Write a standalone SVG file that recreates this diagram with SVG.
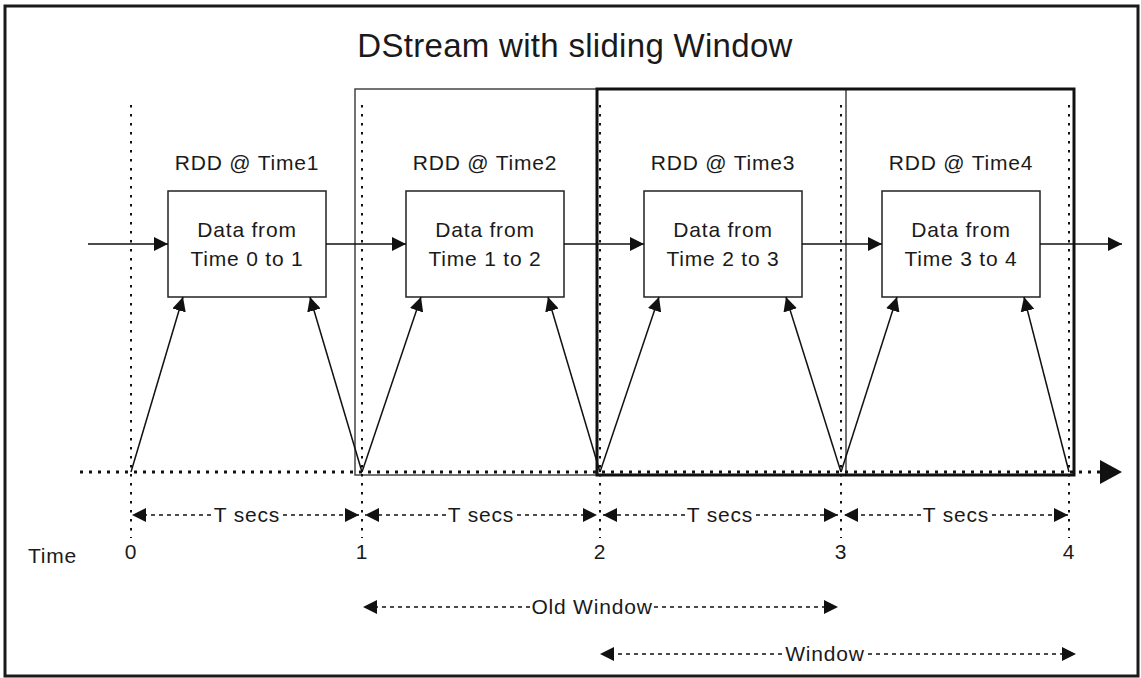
<svg xmlns="http://www.w3.org/2000/svg" width="1141" height="678" viewBox="0 0 1141 678">
<style>
text{font-family:"Liberation Sans",Arial,sans-serif;fill:#1a1a1a;font-size:21px;letter-spacing:0.8px}
.c{text-anchor:middle}
.title{font-size:33px;letter-spacing:0.3px}
.box{fill:#fff;stroke:#222;stroke-width:1.5}
.tick{stroke:#111;stroke-width:2;stroke-dasharray:2.5 6.5;fill:none}
.tl{stroke:#111;stroke-width:3;stroke-dasharray:3 6;fill:none}
.flow{stroke:#111;stroke-width:1.5;fill:none;marker-end:url(#ah)}
.dash{stroke:#111;stroke-width:1.3;stroke-dasharray:4 4;fill:none;marker-end:url(#ah)}
</style>
<defs>
<marker id="ah" markerUnits="userSpaceOnUse" markerWidth="14" markerHeight="14" refX="14" refY="7" orient="auto"><path d="M0,0 L14,7 L0,14 z" fill="#111"/></marker>
</defs>
<rect x="5" y="6" width="1133" height="670" fill="#fff" stroke="#1a1a1a" stroke-width="3"/>
<text class="c title" x="575" y="57">DStream with sliding Window</text>

<g id="windows">
<rect id="old-window" x="355" y="89" width="491" height="386" fill="none" stroke="#444" stroke-width="1.5"/>
<rect id="window" x="597" y="89" width="477" height="386" fill="none" stroke="#111" stroke-width="3"/>
</g>

<g id="ticks">
<line class="tick" x1="131" y1="105" x2="131" y2="538"/>
<line class="tick" x1="362" y1="105" x2="362" y2="538"/>
<line class="tick" x1="600" y1="105" x2="600" y2="538"/>
<line class="tick" x1="841" y1="105" x2="841" y2="538"/>
<line class="tick" x1="1069" y1="105" x2="1069" y2="538"/>
<line class="tl" x1="80" y1="472" x2="1100" y2="472"/>
<path d="M1100,460 L1122,472 L1100,484 z" fill="#111"/>
</g>

<g id="rdd1">
<text class="c" x="247" y="170">RDD @ Time1</text>
<rect class="box" x="168" y="191" width="158" height="106"/>
<text class="c" x="247" y="237">Data from</text>
<text class="c" x="247" y="266">Time 0 to 1</text>
</g>
<g id="rdd2">
<text class="c" x="485" y="170">RDD @ Time2</text>
<rect class="box" x="406" y="191" width="158" height="106"/>
<text class="c" x="485" y="237">Data from</text>
<text class="c" x="485" y="266">Time 1 to 2</text>
</g>
<g id="rdd3">
<text class="c" x="723" y="170">RDD @ Time3</text>
<rect class="box" x="644" y="191" width="158" height="106"/>
<text class="c" x="723" y="237">Data from</text>
<text class="c" x="723" y="266">Time 2 to 3</text>
</g>
<g id="rdd4">
<text class="c" x="961" y="170">RDD @ Time4</text>
<rect class="box" x="882" y="191" width="158" height="106"/>
<text class="c" x="961" y="237">Data from</text>
<text class="c" x="961" y="266">Time 3 to 4</text>
</g>

<g id="connectors">
<line class="flow" x1="88" y1="244" x2="168" y2="244"/>
<line class="flow" x1="326" y1="244" x2="406" y2="244"/>
<line class="flow" x1="564" y1="244" x2="644" y2="244"/>
<line class="flow" x1="802" y1="244" x2="882" y2="244"/>
<line class="flow" x1="1040" y1="244" x2="1122" y2="244"/>

<line class="flow" x1="131" y1="472" x2="183" y2="297"/>
<line class="flow" x1="362" y1="472" x2="310" y2="297"/>
<line class="flow" x1="362" y1="472" x2="421" y2="297"/>
<line class="flow" x1="600" y1="472" x2="548" y2="297"/>
<line class="flow" x1="600" y1="472" x2="659" y2="297"/>
<line class="flow" x1="841" y1="472" x2="786" y2="297"/>
<line class="flow" x1="841" y1="472" x2="897" y2="297"/>
<line class="flow" x1="1069" y1="472" x2="1024" y2="297"/>

<line class="dash" x1="211" y1="515" x2="132" y2="515"/>
<line class="dash" x1="283" y1="515" x2="359" y2="515"/>
<line class="dash" x1="446" y1="515" x2="365" y2="515"/>
<line class="dash" x1="517" y1="515" x2="597" y2="515"/>
<line class="dash" x1="685" y1="515" x2="603" y2="515"/>
<line class="dash" x1="756" y1="515" x2="838" y2="515"/>
<line class="dash" x1="921" y1="515" x2="844" y2="515"/>
<line class="dash" x1="992" y1="515" x2="1068" y2="515"/>

<line class="dash" x1="530" y1="607" x2="363" y2="607"/>
<line class="dash" x1="654" y1="607" x2="838" y2="607"/>
<line class="dash" x1="782" y1="654" x2="600" y2="654"/>
<line class="dash" x1="868" y1="654" x2="1076" y2="654"/>
</g>

<g id="labels">
<text class="c" x="247" y="522">T secs</text>
<text class="c" x="481" y="522">T secs</text>
<text class="c" x="720" y="522">T secs</text>
<text class="c" x="956" y="522">T secs</text>
<text x="28" y="563">Time</text>
<text class="c" x="131" y="559">0</text>
<text class="c" x="362" y="559">1</text>
<text class="c" x="600" y="559">2</text>
<text class="c" x="841" y="559">3</text>
<text class="c" x="1069" y="559">4</text>
<text class="c" x="592" y="614">Old Window</text>
<text class="c" x="825" y="661">Window</text>
</g>
</svg>
